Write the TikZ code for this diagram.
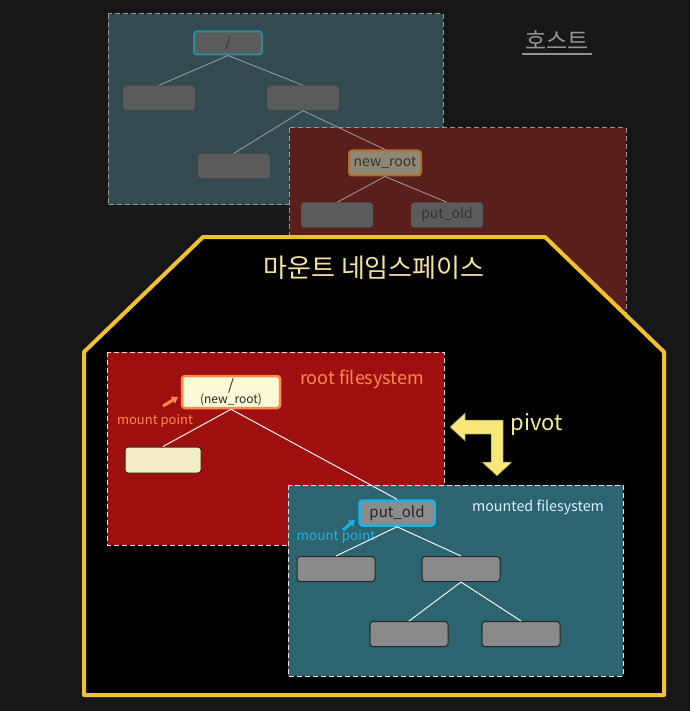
\documentclass[tikz,border=0pt]{standalone}
\usepackage{fontspec}
\setmainfont{Noto Sans CJK KR}
\usetikzlibrary{arrows.meta}
\usetikzlibrary{positioning}
\definecolor{bgdark}{HTML}{171717}
\definecolor{hostteal}{HTML}{334A50}
\definecolor{hostred}{HTML}{5A1F1A}
\definecolor{hostgray}{HTML}{5B5B5B}
\definecolor{hostcyan}{HTML}{2A8AA3}
\definecolor{hostorange}{HTML}{B06E2C}
\definecolor{hostbeige}{HTML}{8F8873}
\definecolor{nsyellow}{HTML}{F2C12E}
\definecolor{titleyellow}{HTML}{F3E3A0}
\definecolor{rootred}{HTML}{A00F0F}
\definecolor{rootorange}{HTML}{FF8A4A}
\definecolor{cream}{HTML}{FFFBD8}
\definecolor{creamdark}{HTML}{F2EDC6}
\definecolor{mntteal}{HTML}{2C6470}
\definecolor{mntcyan}{HTML}{1EB0E0}
\definecolor{boxgray}{HTML}{8A8A8A}
\definecolor{pivotyellow}{HTML}{F8E878}
\tikzset{
    hostframe/.style={
        draw=gray!80,
        dash pattern=on 5pt off 3pt,
        line width=1pt
    },
    nsframe/.style={
        draw=white!85!red,
        dash pattern=on 5pt off 3pt,
        line width=1pt
    },
    hostbox/.style={
        rectangle,
        rounded corners=3pt,
        draw=black!75,
        fill=hostgray,
        minimum width=72pt,
        minimum height=25pt,
        inner sep=0pt,
        text=black!80,
        font=\fontsize{14}{14}\selectfont
    },
    dirbox/.style={
        rectangle,
        rounded corners=3pt,
        draw=black!85,
        line width=1pt,
        fill=boxgray,
        minimum width=78pt,
        minimum height=25pt,
        inner sep=0pt,
        text=black!85,
        font=\fontsize{14}{14}\selectfont
    },
    hostline/.style={
        draw=gray!75,
        line width=0.8pt
    },
    treeline/.style={
        draw=white!90!gray,
        line width=1pt
    },
    mparrow/.style={
        -{Triangle[length=6pt,width=8pt]},
        line width=3pt
    }
}

\begin{document}
\begin{tikzpicture}[x=1pt, y=-1pt]
        \useasboundingbox (0,0) rectangle (690,711);
        \fill[bgdark] (0,0) rectangle (690,711);

        % Host tree
        \filldraw[fill=hostteal, hostframe] (108,14) rectangle (443,205);
        \node (hroot) [hostbox, draw=hostcyan, line width=2pt, minimum width=68pt, minimum height=23pt] at (228,43) {/};
        \node (ha) [hostbox] at (159,98) {};
        \node (hb) [hostbox] at (303,98) {};
        \node (hc) [hostbox] at (234,166) {};
        \node (host) [text=gray!85, font=\fontsize{23}{23}\selectfont] at (557,40) {호스트};
        \draw [draw=gray!85, line width=1.5pt] ([yshift=-1pt]host.south west) -- ([yshift=-1pt]host.south east);

        % Host new_root
        \filldraw[fill=hostred, hostframe] (289,128) rectangle (626,330);
        \node (hnew) [hostbox, fill=hostbeige, draw=hostorange, line width=2pt, minimum width=72pt] at (385,163) {new\_root};
        \node (hd) [hostbox] at (337,215) {};
        \node (hput) [hostbox] at (447,215) {put\_old};

        \draw [hostline] (hroot.south) -- (ha.north);
        \draw [hostline] (hroot.south) -- (hb.north);
        \draw [hostline] (hb.south) -- (hc.north);
        \draw [hostline] (hb.south) -- (hnew.north);
        \draw [hostline] (hnew.south) -- (hd.north);
        \draw [hostline] (hnew.south) -- (hput.north);

        % Mount namespace
        \filldraw[fill=black, draw=nsyellow, line width=4pt, line join=round]
            (84,695) -- (84,352) -- (203,237) -- (545,237) -- (664,352) -- (664,695) -- cycle;
        \node (title) [text=titleyellow, font=\fontsize{26}{26}\selectfont] at (374,268) {마운트 네임스페이스};

        % Root filesystem
        \filldraw[fill=rootred, nsframe] (107,352) rectangle (444,545);
        \node (rootfs) [text=rootorange, font=\fontsize{18}{18}\selectfont] at (362,379) {root filesystem};
        \node (newroot) [dirbox, fill=cream, draw=rootorange, line width=2.5pt, minimum width=98pt, minimum height=32pt, align=center, font=\fontsize{12}{12}\selectfont] at (231,392) {{\fontsize{15}{12}\selectfont /}\\[0pt](new\_root)};
        \node (rleaf) [dirbox, fill=creamdark, draw=black!70!brown, minimum width=76pt, minimum height=26pt] at (163,460) {};
        \node (mproot) [text=rootorange, font=\fontsize{13}{13}\selectfont] at (155,421) {mount point};
        \coordinate (mproottail) at (163,406);
        \coordinate (mproottip) at (178,397);
        \draw [mparrow, draw=rootorange, fill=rootorange] (mproottail) -- (mproottip);

        % Mounted filesystem
        \filldraw[fill=mntteal, nsframe] (288,485) rectangle (623,676);
        \node (mntfs) [text=white!85!cyan, font=\fontsize{14.3}{14.3}\selectfont] at (538,507) {mounted filesystem};
        \node (putold) [dirbox, fill=gray!90!white, draw=mntcyan, line width=2.5pt, minimum width=75pt, minimum height=25pt, font=\fontsize{15}{15}\selectfont] at (397,513) {put\_old};
        \node (ma) [dirbox] at (336,569) {};
        \node (mb) [dirbox] at (461,569) {};
        \node (mc) [dirbox] at (409,634) {};
        \node (md) [dirbox] at (521,634) {};
        \node (mpmnt) [text=mntcyan, font=\fontsize{13.5}{13.5}\selectfont] at (336,537) {mount point};
        \coordinate (mpmnttail) at (343,530);
        \coordinate (mpmnttip) at (355,520);
        \draw [mparrow, draw=mntcyan, fill=mntcyan] (mpmnttail) -- (mpmnttip);

        % Tree lines
        \draw [treeline] (newroot.south) -- (rleaf.north);
        \draw [treeline] (newroot.south) -- (putold.north);
        \draw [treeline] (putold.south) -- (ma.north);
        \draw [treeline] (putold.south) -- (mb.north);
        \draw [treeline] (mb.south) -- (mc.north);
        \draw [treeline] (mb.south) -- (md.north);

        % Pivot
        \filldraw [fill=pivotyellow, draw=black!60!yellow, line width=0.5pt]
            (450,427) -- (465,413) -- (465,420) -- (503,420) -- (503,462) -- (512,462)
            -- (497,476) -- (482,462) -- (491,462) -- (491,434) -- (465,434) -- (465,441) -- cycle;
        \node (pivot) [text=pivotyellow!80!white, font=\fontsize{22}{22}\selectfont] at (537,424) {pivot};
\end{tikzpicture}
\end{document}
